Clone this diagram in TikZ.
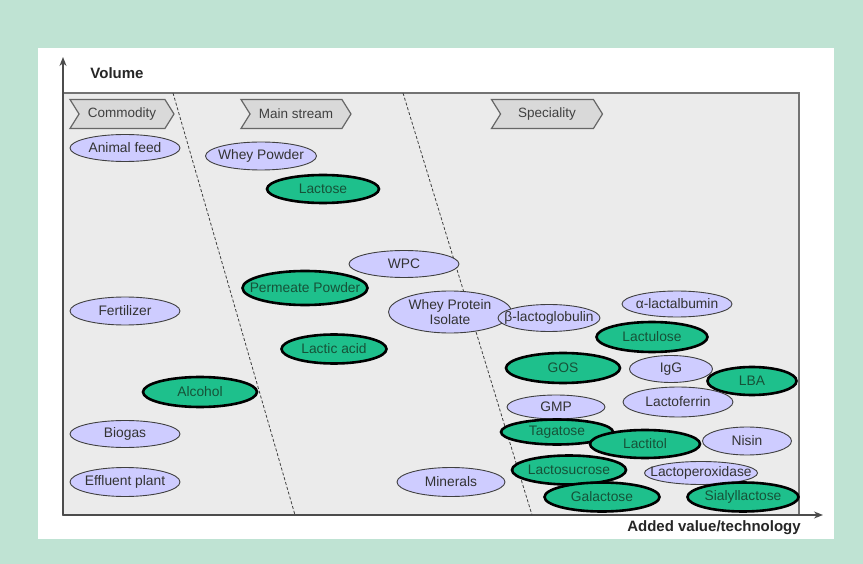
\documentclass[tikz,border=0pt]{standalone}
\usepackage{fontspec}
\setmainfont{Liberation Sans}
\usetikzlibrary{shapes.geometric, shapes.symbols, arrows.meta}
\definecolor{frameGreen}{RGB}{191,227,211}
\definecolor{panelGray}{RGB}{235,235,235}
\definecolor{tagGray}{RGB}{217,217,217}
\definecolor{prodLilac}{RGB}{206,204,255}
\definecolor{prodGreen}{RGB}{30,192,140}
\definecolor{hotText}{RGB}{22,82,56}
\tikzset{
	prod/.style={ellipse, draw=black!75, line width=0.9pt, fill=prodLilac,
		inner xsep=-20pt, inner ysep=-4pt,
		text=black!80, font=\fontsize{13.8}{15}\selectfont},
	hot/.style={prod, fill=prodGreen, draw=black, line width=2.6pt, text=hotText},
	stagetag/.style={signal, signal from=west, signal to=east, signal pointer angle=116,
		draw=black!60, line width=1.2pt, fill=tagGray, inner sep=0pt,
		minimum height=29pt, text=black!75, font=\fontsize{13.5}{15}\selectfont},
	axislabel/.style={font=\bfseries\fontsize{15}{16}\selectfont, text=black!85},
	axisline/.style={black!70, line width=1.3pt, -{Stealth[length=9pt, width=7pt]}}
}
% ellipse of one product: style, x, y, width, height, name, text
\newcommand{\product}[7]{
	\node[#1, minimum width=#4pt, minimum height=#5pt] (#6) at (#2,#3) {#7};
}

\begin{document}
\begin{tikzpicture}[x=1pt, y=-1pt]
	\useasboundingbox (0,0) rectangle (863,564);
	\fill[frameGreen] (0,0) rectangle (863,564);
	\fill[white] (38,48) rectangle (834,539);
	% plot area
	\draw[black!55, line width=1.2pt, fill=panelGray] (63,93) rectangle (799,515);
	\coordinate (origin) at (63,515);
	\coordinate (ytip) at (63,57);
	\coordinate (xtip) at (823,515);
	\draw[axisline] (origin) -- (ytip);
	\draw[axisline] (origin) -- (xtip);
	\node[axislabel] (volume) at (117,73) {Volume};
	\node[axislabel] (addedvalue) at (714,528) {Added value/technology};
	% borders between the stages
	\draw[black!75, densely dashed, line width=0.8pt] (173,93) -- (295,515);
	\draw[black!75, densely dashed, line width=0.8pt] (403,93) -- (532,515);
	\node[stagetag, minimum width=104pt] (commodity) at (122,114) {Commodity};
	\node[stagetag, minimum width=110pt] (mainstream) at (296,114) {Main stream};
	\node[stagetag, minimum width=111pt] (speciality) at (547,114) {Speciality};

	% Commodity
	\product{prod}{125}{148}{110}{27}{animalfeed}{Animal feed}
	\product{prod}{125}{311}{110}{28}{fertilizer}{Fertilizer}
	\product{hot}{200}{392}{114}{30}{alcohol}{Alcohol}
	\product{prod}{125}{434}{110}{27}{biogas}{Biogas}
	\product{prod}{125}{482}{110}{29}{effluent}{Effluent plant}

	% Main stream
	\product{prod}{261}{156}{111}{28}{wheypowder}{Whey Powder}
	\product{hot}{323}{189}{112}{28}{lactose}{Lactose}
	\product{prod}{404}{264}{110}{27}{wpc}{WPC}
	\product{hot}{305}{288}{125}{34}{permeate}{Permeate Powder}
	\product{hot}{334}{349}{105}{29}{lacticacid}{Lactic acid}
	\node[prod, minimum width=123pt, minimum height=42pt, align=center] (wpi) at (450,312) {Whey Protein\\Isolate};
	\product{prod}{451}{482}{108}{29}{minerals}{Minerals}

	% Speciality
	\product{prod}{549}{318}{102}{27}{betalg}{β-lactoglobulin}
	\product{prod}{677}{304}{110}{26}{alphala}{α-lactalbumin}
	\product{hot}{652}{337}{111}{30}{lactulose}{Lactulose}
	\product{hot}{563}{368}{114}{30}{gos}{GOS}
	\product{prod}{671}{369}{83}{27}{igg}{IgG}
	\product{hot}{752}{381}{89}{28}{lba}{LBA}
	\product{prod}{556}{407}{98}{24}{gmp}{GMP}
	\product{prod}{678}{402}{110}{30}{lactoferrin}{Lactoferrin}
	\product{hot}{557}{432}{112}{25}{tagatose}{Tagatose}
	\product{hot}{645}{444}{110}{28}{lactitol}{Lactitol}
	\product{prod}{747}{441}{89}{28}{nisin}{Nisin}
	\product{hot}{569}{470}{114}{29}{lactosucrose}{Lactosucrose}
	\product{prod}{701}{473}{113}{23}{lactoperox}{Lactoperoxidase}
	\product{hot}{602}{497}{115}{29}{galactose}{Galactose}
	\product{hot}{743}{497}{111}{29}{sialyl}{Sialyllactose}
\end{tikzpicture}
\end{document}
